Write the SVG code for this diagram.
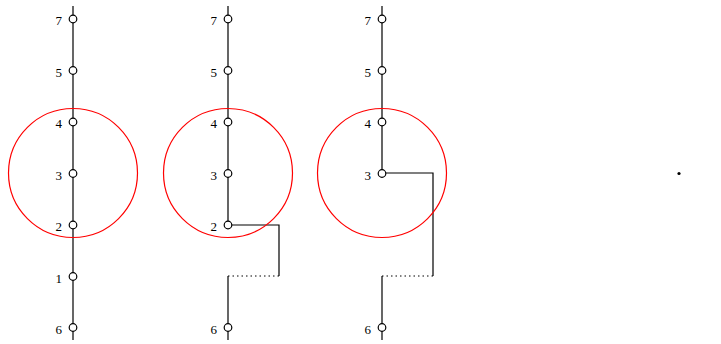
<svg xmlns="http://www.w3.org/2000/svg" width="721" height="344" viewBox="0 0 721 344">
<style>
.w{fill:none;stroke:#000;stroke-width:1.2}
.d{fill:none;stroke:#000;stroke-width:1;stroke-dasharray:1.5,3}
.r{fill:none;stroke:#f00;stroke-width:1.2}
.n{fill:#fff;stroke:#000;stroke-width:1.2}
text{font-family:"Liberation Serif",serif;font-size:13px;text-anchor:end;fill:#000}
</style>
<rect width="721" height="344" fill="#fff"/>
<g id="connectors">
<path class="w" d="M73,6V340"/>
<path class="w" d="M228,6V225H279V276"/>
<path class="d" d="M279,276H228"/>
<path class="w" d="M228,276V340"/>
<path class="w" d="M382,6V173H433V276"/>
<path class="d" d="M433,276H382"/>
<path class="w" d="M382,276V340"/>
</g>
<g id="circles">
<circle class="r" cx="73" cy="173" r="64.5"/>
<circle class="r" cx="228" cy="173" r="64.5"/>
<circle class="r" cx="382" cy="173" r="64.5"/>
</g>
<g id="col1">
<g id="a7"><circle class="n" cx="73" cy="19" r="3.8"/><text x="62" y="25">7</text></g>
<g id="a5"><circle class="n" cx="73" cy="70.5" r="3.8"/><text x="62" y="76.5">5</text></g>
<g id="a4"><circle class="n" cx="73" cy="122" r="3.8"/><text x="62" y="128">4</text></g>
<g id="a3"><circle class="n" cx="73" cy="173.5" r="3.8"/><text x="62" y="179.5">3</text></g>
<g id="a2"><circle class="n" cx="73" cy="225" r="3.8"/><text x="62" y="231">2</text></g>
<g id="a1"><circle class="n" cx="73" cy="276.5" r="3.8"/><text x="62" y="282.5">1</text></g>
<g id="a6"><circle class="n" cx="73" cy="327.5" r="3.8"/><text x="62" y="333.5">6</text></g>
</g>
<g id="col2">
<g id="b7"><circle class="n" cx="228" cy="19" r="3.8"/><text x="217" y="25">7</text></g>
<g id="b5"><circle class="n" cx="228" cy="70.5" r="3.8"/><text x="217" y="76.5">5</text></g>
<g id="b4"><circle class="n" cx="228" cy="122" r="3.8"/><text x="217" y="128">4</text></g>
<g id="b3"><circle class="n" cx="228" cy="173.5" r="3.8"/><text x="217" y="179.5">3</text></g>
<g id="b2"><circle class="n" cx="228" cy="225" r="3.8"/><text x="217" y="231">2</text></g>
<g id="b6"><circle class="n" cx="228" cy="327.5" r="3.8"/><text x="217" y="333.5">6</text></g>
</g>
<g id="col3">
<g id="c7"><circle class="n" cx="382" cy="19" r="3.8"/><text x="371" y="25">7</text></g>
<g id="c5"><circle class="n" cx="382" cy="70.5" r="3.8"/><text x="371" y="76.5">5</text></g>
<g id="c4"><circle class="n" cx="382" cy="122" r="3.8"/><text x="371" y="128">4</text></g>
<g id="c3"><circle class="n" cx="382" cy="173.5" r="3.8"/><text x="371" y="179.5">3</text></g>
<g id="c6"><circle class="n" cx="382" cy="327.5" r="3.8"/><text x="371" y="333.5">6</text></g>
</g>
<g id="dot"><circle cx="679" cy="173.5" r="1.6" fill="#000"/></g>
</svg>
